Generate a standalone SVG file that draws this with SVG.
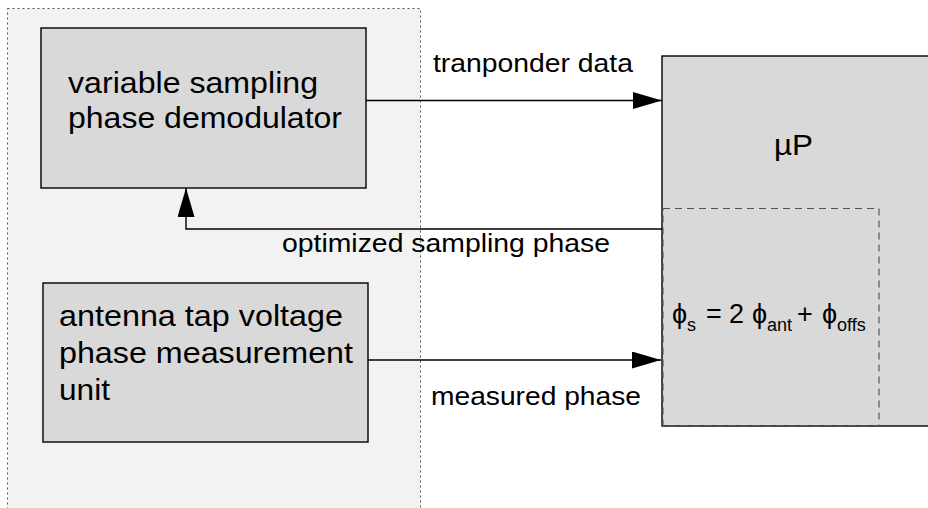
<svg xmlns="http://www.w3.org/2000/svg" width="928" height="508" viewBox="0 0 928 508">
  <style>
    text { font-family: "Liberation Sans", Arial, sans-serif; fill: #000; }
    .box { fill: #d9d9d9; stroke: #000; stroke-width: 1.4; }
    .big { font-size: 29px; }
    .lbl { font-size: 25px; }
    .eq { font-size: 27px; }
    .sub { font-size: 18px; }
    .wire { fill: none; stroke: #000; stroke-width: 1.4; }
  </style>
  <defs>
    <marker id="arrow" viewBox="0 0 29 17" refX="29" refY="8.5" markerWidth="29" markerHeight="17" markerUnits="userSpaceOnUse" orient="auto">
      <path d="M0,0 L29,8.5 L0,17 Z" fill="#000"/>
    </marker>
  </defs>

  <rect width="928" height="508" fill="#fff"/>

  <!-- dotted front-end region -->
  <g id="frontend">
    <rect x="7.5" y="8.5" width="413" height="520" fill="#f2f2f2" stroke="#555" stroke-width="1" stroke-dasharray="2,3"/>
  </g>

  <g id="demodulator">
    <rect class="box" x="41" y="28" width="325" height="160"/>
    <text class="big" x="68" y="93" textLength="250" lengthAdjust="spacingAndGlyphs">variable sampling</text>
    <text class="big" x="68" y="128" textLength="274" lengthAdjust="spacingAndGlyphs">phase demodulator</text>
  </g>

  <g id="measurement">
    <rect class="box" x="43" y="283" width="325" height="159"/>
    <text class="big" x="59" y="326" textLength="284" lengthAdjust="spacingAndGlyphs">antenna tap voltage</text>
    <text class="big" x="59" y="363" textLength="294" lengthAdjust="spacingAndGlyphs">phase measurement</text>
    <text class="big" x="59" y="400" textLength="51" lengthAdjust="spacingAndGlyphs">unit</text>
  </g>

  <g id="microprocessor">
    <rect class="box" x="662" y="56" width="280" height="370"/>
    <text x="774" y="155" font-size="30" textLength="39" lengthAdjust="spacingAndGlyphs">µP</text>
    <rect x="663" y="208.5" width="216" height="217" fill="none" stroke="#555" stroke-width="1.2" stroke-dasharray="7,5"/>
    <text class="eq" y="323"><tspan x="672">ϕ</tspan><tspan class="sub" x="687" y="331">s</tspan><tspan x="706" y="323">=</tspan><tspan x="729">2</tspan><tspan x="752">ϕ</tspan><tspan class="sub" x="767" y="331">ant</tspan><tspan x="797" y="323">+</tspan><tspan x="822">ϕ</tspan><tspan class="sub" x="837" y="331">offs</tspan></text>
  </g>

  <g id="connectors">
    <path class="wire" d="M366,100.5 H662" marker-end="url(#arrow)"/>
    <path class="wire" d="M662,229 H186 V188" marker-end="url(#arrow)"/>
    <path class="wire" d="M368,360 H661" marker-end="url(#arrow)"/>
    <text class="lbl" x="433" y="72" textLength="200" lengthAdjust="spacingAndGlyphs">tranponder data</text>
    <text class="lbl" x="282" y="252" textLength="328" lengthAdjust="spacingAndGlyphs">optimized sampling phase</text>
    <text class="lbl" x="431" y="405" textLength="210" lengthAdjust="spacingAndGlyphs">measured phase</text>
  </g>
</svg>
